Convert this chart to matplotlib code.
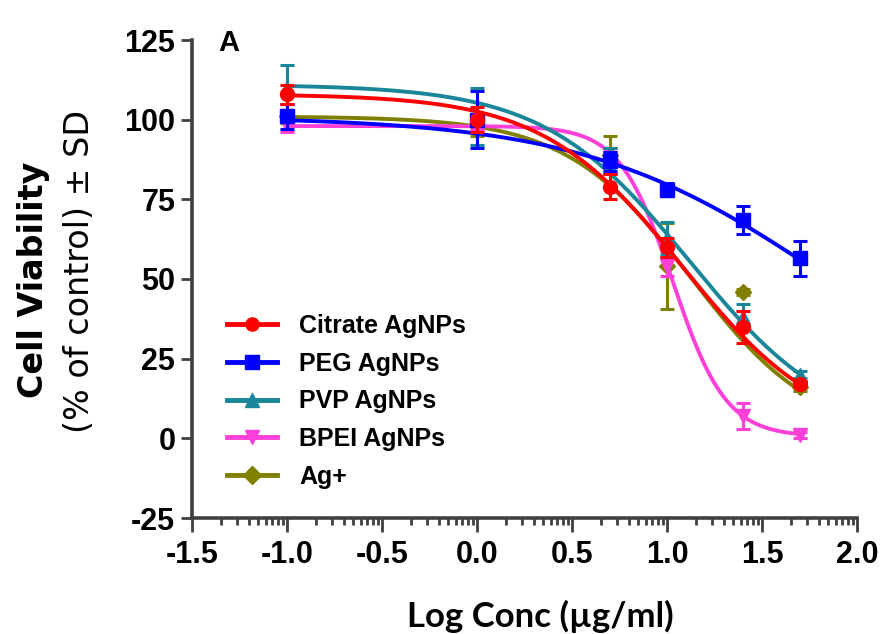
import numpy as np
import matplotlib
matplotlib.use("Agg")
import matplotlib.pyplot as plt
from matplotlib.lines import Line2D

plt.rcParams["axes.unicode_minus"] = False

# measured points (mean +/- SD)
log_conc = [-1.0, 0.0, 0.7, 1.0, 1.4, 1.7]

citrate_mean = [108, 100, 79, 60, 35, 17]
citrate_sd = [3, 4, 4, 3, 5, 1]
peg_mean = [101, 100, 87, 78, 68.5, 56.5]
peg_sd = [4, 9, 3, 2, 4.5, 5.5]
pvp_mean = [110, 101, 85, 63, 38, 20]
pvp_sd = [7, 9, 6, 5, 4, 1]
bpei_mean = [98, 99, 88, 54, 7, 1]
bpei_sd = [2, 2, 3, 3, 4, 1]
ag_mean = [101, 98, 89, 54, 46, 16]
ag_sd = [2, 3, 6, 13.5, 1, 1]

# fitted dose-response curves: top, bottom, logIC50, hill slope
citrate_fit = [108, 0, 1.08, 1.18]
peg_fit = [101, 0, 1.84, 0.68]
pvp_fit = [111, 0, 1.12, 1.13]
bpei_fit = [98, 0.5, 1.03, 3.1]
ag_fit = [101, 0, 1.125, 1.32]

labels = ["Citrate AgNPs", "PEG AgNPs", "PVP AgNPs", "BPEI AgNPs", "Ag+"]
colors = ["#ff0000", "#0000ff", "#1a8699", "#ff40d8", "#808000"]
markers = ["o", "s", "^", "v", "D"]
means = [citrate_mean, peg_mean, pvp_mean, bpei_mean, ag_mean]
sds = [citrate_sd, peg_sd, pvp_sd, bpei_sd, ag_sd]
fits = [citrate_fit, peg_fit, pvp_fit, bpei_fit, ag_fit]
zorders = [6, 5, 4, 3, 2]
msizes = [10, 9.5, 10, 10, 8]


def logistic(x, p):
    top, bottom, logic50, hill = p
    return bottom + (top - bottom) / (1 + 10 ** ((x - logic50) * hill))


fig = plt.figure(figsize=(8.83, 6.34), dpi=100)
ax = fig.add_axes([192 / 883, 1 - 518 / 634, 665 / 883, 478 / 634])

xs = np.linspace(-1.0, 1.7, 300)
for lab, col, mk, m, s, p, z, ms in zip(labels, colors, markers, means, sds, fits, zorders, msizes):
    ax.plot(xs, logistic(xs, p), color=col, lw=2.8, zorder=z)
    ax.errorbar(log_conc, m, yerr=s, fmt=mk, color=col, ms=ms, elinewidth=2.2,
                capsize=5, capthick=2.2, zorder=z)

ax.set_xlim(-1.5, 2.0)
ax.set_ylim(-25, 125)
ax.set_xticks(np.arange(-1.5, 2.01, 0.5))
ax.set_yticks(np.arange(-25, 126, 25))
ax.set_xticklabels(["-1.5", "-1.0", "-0.5", "0.0", "0.5", "1.0", "1.5", "2.0"])
minor = []
for a in np.arange(-1.5, 2.0, 0.5):
    for k in range(2, 10):
        minor.append(a + 0.5 * np.log10(k))
ax.set_xticks(minor, minor=True)

for side in ["top", "right"]:
    ax.spines[side].set_visible(False)
for side in ["left", "bottom"]:
    ax.spines[side].set_linewidth(2.6)
    ax.spines[side].set_color("#404040")

ax.tick_params(axis="both", which="major", direction="out", width=2, color="#404040",
               labelsize=22, labelcolor="black")
ax.tick_params(axis="y", which="major", length=8, pad=4)
ax.tick_params(axis="x", which="major", length=10, pad=6)
ax.tick_params(axis="x", which="minor", length=5, width=2, color="#404040")
for t in ax.get_xticklabels() + ax.get_yticklabels():
    t.set_fontfamily("Liberation Sans")
    t.set_fontweight("bold")

# panel letter
ax.text(0.056, 0.993, "A", transform=ax.transAxes, ha="center", va="center",
        fontsize=21, fontweight="bold", family="Liberation Sans")

# axis titles
fig.text(34 / 883, 1 - 280 / 634, "Cell Viability", rotation=90, ha="center", va="center",
         fontsize=24, fontweight="bold", family="DejaVu Sans")
fig.text(80 / 883, 1 - 271 / 634, "(% of control) \u00b1 SD", rotation=90, ha="center",
         va="center", fontsize=24, family="DejaVu Sans")
fig.text(540 / 883, 0.011, "Log Conc (\u00b5g/ml)", ha="center", va="baseline",
         fontsize=25, fontweight="bold", family="Lato")

handles = [Line2D([0], [0], color=c, marker=mk, lw=3.5, ms=9.5) for c, mk in zip(colors, markers)]
leg = ax.legend(handles, labels, loc="upper left", bbox_to_anchor=(0.0526, 0.427),
                frameon=False, borderpad=0, borderaxespad=0, handlelength=2.0,
                handletextpad=0.9, labelspacing=0.55,
                prop={"family": "Liberation Sans", "weight": "bold", "size": 18})

fig.savefig("out.png", dpi=100)
